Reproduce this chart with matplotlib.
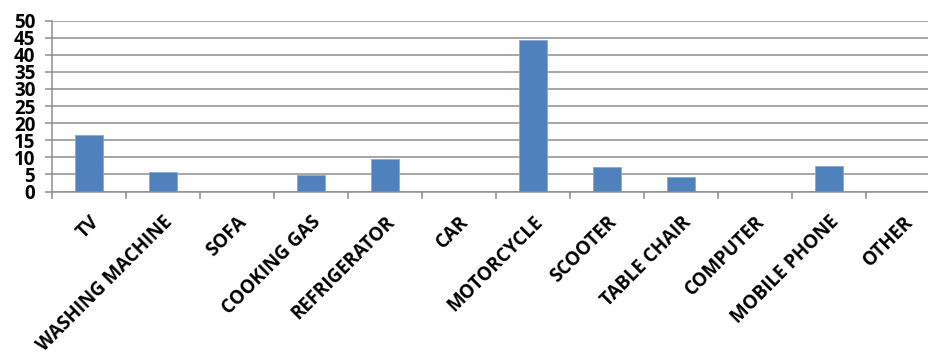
import matplotlib
matplotlib.use("Agg")
import matplotlib.pyplot as plt
import numpy as np
from matplotlib.transforms import ScaledTranslation

categories = ["TV", "WASHING MACHINE", "SOFA", "COOKING GAS", "REFRIGERATOR", "CAR",
              "MOTORCYCLE", "SCOOTER", "TABLE CHAIR", "COMPUTER", "MOBILE PHONE", "OTHER"]
values = [16.5, 5.8, 0, 4.9, 9.5, 0, 44.2, 7.3, 4.2, 0, 7.4, 0]
y_ticks = [0, 5, 10, 15, 20, 25, 30, 35, 40, 45, 50]

plt.rcParams['font.family'] = ['Open Sans', 'DejaVu Sans']

fig = plt.figure(figsize=(9.29, 3.6), dpi=100)
ax = fig.add_axes([52 / 929, 168.5 / 360, 888 / 929, 171 / 360])

x = np.arange(len(categories))
ax.bar(x, values, width=0.39, color="#4F81BD", edgecolor="#86A9D6", linewidth=0.6, zorder=3)

ax.set_xlim(-0.5, len(categories) - 0.5)
ax.set_ylim(0, 50)
ax.set_yticks(y_ticks)
ax.set_yticklabels([str(t) for t in y_ticks], fontsize=13.5, fontweight="bold")

ax.yaxis.grid(True, color="#8E8E8E", linewidth=1.1, zorder=0)
ax.set_axisbelow(True)

for side in ["top", "right"]:
    ax.spines[side].set_visible(False)
for side in ["left", "bottom"]:
    ax.spines[side].set_color("#8E8E8E")
    ax.spines[side].set_linewidth(1.1)
ax.spines["bottom"].set_zorder(4)

ax.tick_params(axis="y", length=5, width=1.1, color="#8E8E8E", pad=7)

# category labels at centres, tick marks at category boundaries
ax.set_xticks(x)
ax.set_xticklabels(categories, fontsize=13.5, fontweight="bold", rotation=45,
                   ha="right", va="center", rotation_mode="anchor")
ax.tick_params(axis="x", which="major", length=0, pad=20)
ax.set_xticks(np.arange(-0.5, len(categories)), minor=True)
ax.tick_params(axis="x", which="minor", length=5, width=1.1, color="#8E8E8E")

offset = ScaledTranslation(7 / 100, 0, fig.dpi_scale_trans)
for lbl in ax.get_xticklabels():
    lbl.set_transform(lbl.get_transform() + offset)

fig.savefig("out.png", dpi=100)
